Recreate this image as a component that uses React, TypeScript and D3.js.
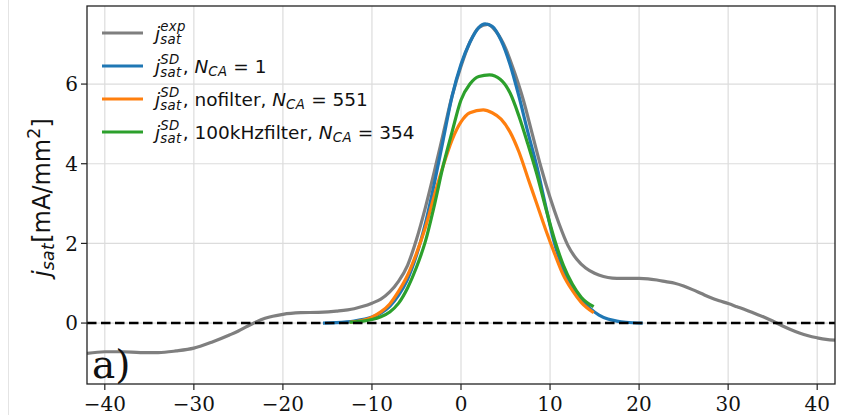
import React, { useEffect, useRef } from "react";
import * as d3 from "d3";

const W = 843;
const H = 415;

// j_sat^exp (grey)
const expX = [-42, -40, -38, -36, -34, -32, -30, -28, -26, -25, -24, -23, -22, -20, -18, -16, -14, -12, -11, -10, -9, -8, -7, -6, -5, -4, -3, -2, -1, 0, 1, 2, 3, 4, 5, 6, 7, 8, 9, 10, 11, 12, 13, 14, 15, 16, 17, 18, 19, 20, 21, 22, 23, 24, 25, 26, 27, 28, 29, 30, 31, 32, 33, 34, 35, 36, 37, 38, 39, 40, 41, 42];
const expY = [-0.76, -0.72, -0.72, -0.74, -0.74, -0.7, -0.63, -0.48, -0.3, -0.2, -0.08, 0.03, 0.12, 0.22, 0.26, 0.27, 0.3, 0.36, 0.42, 0.5, 0.6, 0.78, 1.05, 1.45, 2.1, 2.9, 3.8, 4.75, 5.7, 6.45, 7.05, 7.42, 7.5, 7.3, 6.9, 6.3, 5.6, 4.75, 3.9, 3.15, 2.5, 1.95, 1.6, 1.38, 1.25, 1.17, 1.13, 1.12, 1.12, 1.12, 1.11, 1.08, 1.04, 1.0, 0.93, 0.84, 0.74, 0.64, 0.56, 0.49, 0.41, 0.33, 0.24, 0.15, 0.05, -0.06, -0.16, -0.25, -0.32, -0.37, -0.41, -0.43];

// j_sat^SD, N_CA = 1 (blue)
const sdX = [-15.5, -14, -12, -10, -9, -8, -7, -6, -5, -4, -3, -2, -1, 0, 1, 2, 2.7, 3.5, 4.5, 5.5, 6.5, 7.5, 8.5, 9.5, 10.5, 11.5, 12.5, 13.5, 14.5, 15.5, 16.5, 17.5, 18.5, 20.4];
const sdY = [0.0, 0.01, 0.05, 0.15, 0.25, 0.42, 0.7, 1.1, 1.7, 2.5, 3.5, 4.6, 5.7, 6.5, 7.05, 7.42, 7.51, 7.45, 7.1, 6.5, 5.7, 4.8, 3.95, 2.95, 2.0, 1.35, 0.9, 0.6, 0.37, 0.2, 0.1, 0.05, 0.02, 0.0];

// nofilter, N_CA = 551 (orange)
const nofX = [-12.5, -11, -10, -9, -8, -7, -6, -5, -4, -3, -2, -1, 0, 1, 2.5, 3.5, 4.5, 5.5, 6.5, 7.5, 8.5, 9.5, 10.5, 11.5, 12.5, 13.5, 14.9];
const nofY = [0.02, 0.07, 0.15, 0.28, 0.48, 0.8, 1.2, 1.75, 2.4, 3.2, 3.95, 4.6, 5.05, 5.28, 5.35, 5.28, 5.12, 4.8, 4.3, 3.65, 3.0, 2.35, 1.75, 1.2, 0.82, 0.52, 0.26];

// 100kHzfilter, N_CA = 354 (green)
const filX = [-12.5, -11, -10, -9, -8, -7, -6, -5, -4, -3, -2, -1, 0, 1, 2, 3.2, 4.4, 5.5, 6.5, 7.5, 8.5, 9.5, 10.5, 11.5, 12.5, 13.5, 14.9];
const filY = [0.02, 0.05, 0.09, 0.16, 0.28, 0.5, 0.88, 1.4, 2.05, 2.95, 3.95, 4.8, 5.6, 6.0, 6.19, 6.23, 6.12, 5.78, 5.2, 4.5, 3.75, 2.9, 2.1, 1.45, 0.98, 0.65, 0.41];

const xTicks = [-40, -30, -20, -10, 0, 10, 20, 30, 40];
const yTicks = [0, 2, 4, 6];

// sup = stacked superscript (no advance), sub = subscript under it,
// nsub / nsup = lone sub / superscript
type Part = { s: string; it?: boolean; pos?: "sup" | "sub" | "nsub" | "nsup" };

const jSD: Part[] = [{ s: "j", it: true }, { s: "SD", it: true, pos: "sup" }, { s: "sat", it: true, pos: "sub" }];
const legendLabels: Part[][] = [
  [{ s: "j", it: true }, { s: "exp", it: true, pos: "sup" }, { s: "sat", it: true, pos: "sub" }],
  [...jSD, { s: ", " }, { s: "N", it: true }, { s: "CA", it: true, pos: "nsub" }, { s: " = 1" }],
  [...jSD, { s: ", nofilter, " }, { s: "N", it: true }, { s: "CA", it: true, pos: "nsub" }, { s: " = 551" }],
  [...jSD, { s: ", 100kHzfilter, " }, { s: "N", it: true }, { s: "CA", it: true, pos: "nsub" }, { s: " = 354" }],
];
const yLabel: Part[] = [{ s: "j", it: true }, { s: "sat", it: true, pos: "nsub" }, { s: "[mA/mm" }, { s: "2", pos: "nsup" }, { s: "]" }];
const legendColors = ["#7f7f7f", "#1f77b4", "#ff7f0e", "#2ca02c"];

export default function App() {
  const ref = useRef<SVGSVGElement>(null);

  useEffect(() => {
    const svg = d3.select(ref.current);
    svg.selectAll("*").remove();

    const m = { left: 87, right: 835, top: 6, bottom: 384 };
    const x = d3.scaleLinear().domain([-42, 42]).range([m.left, m.right]);
    const y = d3.scaleLinear().domain([-1.53, 7.96]).range([m.bottom, m.top]);

    svg.append("rect").attr("width", W).attr("height", H).attr("fill", "#fff");
    // page edge visible in the screenshot
    svg.append("line")
      .attr("x1", 8.5).attr("x2", 8.5).attr("y1", 0).attr("y2", H)
      .attr("stroke", "#e4e4e4").attr("stroke-width", 1);

    // grid
    const grid = svg.append("g").attr("stroke", "#dcdcdc").attr("stroke-width", 1.2);
    xTicks.forEach(t => {
      grid.append("line").attr("x1", x(t)).attr("x2", x(t)).attr("y1", m.top).attr("y2", m.bottom);
    });
    yTicks.forEach(t => {
      grid.append("line").attr("x1", m.left).attr("x2", m.right).attr("y1", y(t)).attr("y2", y(t));
    });

    svg.append("defs").append("clipPath").attr("id", "plot")
      .append("rect").attr("x", m.left).attr("y", m.top)
      .attr("width", m.right - m.left).attr("height", m.bottom - m.top);

    const series = [
      { xs: expX, ys: expY, c: legendColors[0] },
      { xs: sdX, ys: sdY, c: legendColors[1] },
      { xs: nofX, ys: nofY, c: legendColors[2] },
      { xs: filX, ys: filY, c: legendColors[3] },
    ];
    const plot = svg.append("g").attr("clip-path", "url(#plot)");
    series.forEach(s => {
      const pts = s.xs.map((v, i) => [x(v), y(s.ys[i])] as [number, number]);
      plot.append("path")
        .attr("d", d3.line().curve(d3.curveMonotoneX)(pts))
        .attr("fill", "none")
        .attr("stroke", s.c)
        .attr("stroke-width", 3.2)
        .attr("stroke-linejoin", "round");
    });

    // zero line
    plot.append("line")
      .attr("x1", m.left).attr("x2", m.right).attr("y1", y(0)).attr("y2", y(0))
      .attr("stroke", "#000").attr("stroke-width", 2.6)
      .attr("stroke-dasharray", "9.5,4.5");

    // frame
    svg.append("rect")
      .attr("x", m.left).attr("y", m.top)
      .attr("width", m.right - m.left).attr("height", m.bottom - m.top)
      .attr("fill", "none").attr("stroke", "#222").attr("stroke-width", 1.3);

    // ticks
    const tickFont = "'DejaVu Serif', serif";
    xTicks.forEach(t => {
      svg.append("line").attr("x1", x(t)).attr("x2", x(t)).attr("y1", m.bottom).attr("y2", m.bottom + 6)
        .attr("stroke", "#222").attr("stroke-width", 1.2);
      svg.append("text").attr("x", x(t)).attr("y", 411)
        .attr("text-anchor", "middle").attr("font-family", tickFont).attr("font-size", 20)
        .attr("fill", "#111")
        .text(t < 0 ? "\u2212" + Math.abs(t) : String(t));
    });
    yTicks.forEach(t => {
      svg.append("line").attr("x1", m.left - 6).attr("x2", m.left).attr("y1", y(t)).attr("y2", y(t))
        .attr("stroke", "#222").attr("stroke-width", 1.2);
      svg.append("text").attr("x", 78).attr("y", y(t) + 7.3)
        .attr("text-anchor", "end").attr("font-family", tickFont).attr("font-size", 20)
        .attr("fill", "#111")
        .text(String(t));
    });

    // rich text helper (mathtext-like)
    const rich = (g: any, x0: number, yb: number, parts: Part[], fs: number) => {
      let cx = x0;
      let pendingSup = 0;
      parts.forEach(p => {
        const small = !!p.pos;
        let dy = 0;
        if (p.pos === "sup") dy = -0.46 * fs;
        if (p.pos === "nsup") dy = -0.4 * fs;
        if (p.pos === "sub") dy = 0.24 * fs;
        if (p.pos === "nsub") dy = 0.17 * fs;
        const t = g.append("text")
          .attr("x", cx).attr("y", yb + dy)
          .attr("font-family", "'DejaVu Sans', sans-serif")
          .attr("font-size", small ? fs * 0.72 : fs)
          .attr("font-style", p.it ? "italic" : "normal")
          .attr("letter-spacing", small ? 0.4 : 0)
          .attr("fill", "#111")
          .style("white-space", "pre")
          .text(p.s);
        const w = (t.node() as SVGTextElement).getComputedTextLength();
        if (p.pos === "sup") { pendingSup = w; return; }
        if (p.pos === "sub") { cx += Math.max(w, pendingSup) + 1; pendingSup = 0; return; }
        cx += w;
      });
    };

    // y label
    const yl = svg.append("g").attr("transform", "translate(50,196) rotate(-90)");
    const ylab = yl.append("g");
    rich(ylab, 0, 0, yLabel, 24);
    const bb = (ylab.node() as SVGGElement).getBBox();
    ylab.attr("transform", `translate(${-bb.width / 2},0)`);

    // legend
    const lg = svg.append("g");
    legendLabels.forEach((parts, i) => {
      const ly = 33 + i * 33;
      lg.append("line").attr("x1", 102).attr("x2", 143).attr("y1", ly).attr("y2", ly)
        .attr("stroke", legendColors[i]).attr("stroke-width", 3.2);
      rich(lg, 155, ly + 7, parts, 18.5);
    });

    // panel tag
    svg.append("text").attr("x", 92).attr("y", 378)
      .attr("font-family", tickFont).attr("font-size", 39).attr("fill", "#111")
      .text("a)");
  }, []);

  return (
    <svg
      ref={ref}
      width={W}
      height={H}
      style={{ position: "absolute", left: 0, top: 0, background: "#fff" }}
    />
  );
}
